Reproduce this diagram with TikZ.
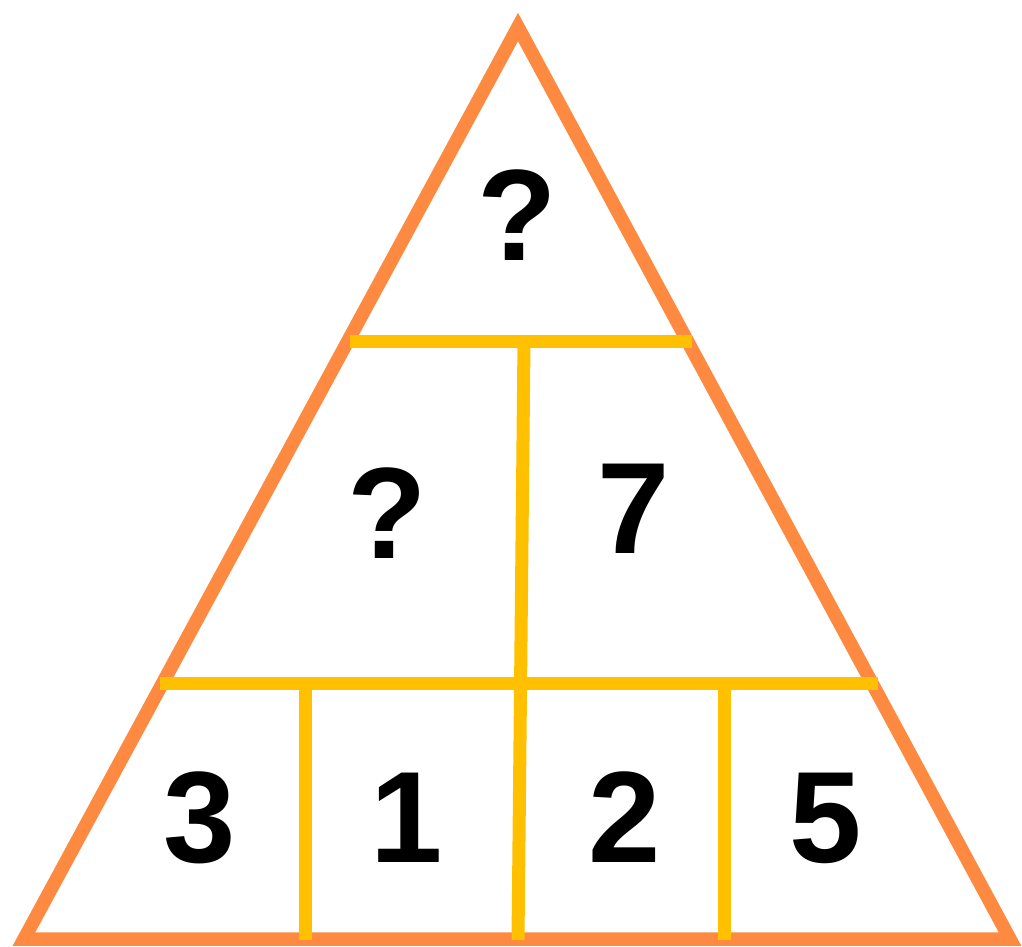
\documentclass[tikz,border=0pt]{standalone}
\usepackage{fontspec}
\setmainfont{Liberation Sans}
\definecolor{tri}{RGB}{253,138,64}
\definecolor{bar}{RGB}{255,192,0}
\begin{document}
\begin{tikzpicture}[x=1pt,y=-1pt,
  edge/.style={draw=tri,line width=13.5pt,line join=miter},
  divider/.style={draw=bar,line width=13pt},
  num/.style={anchor=base,inner sep=0pt,font=\fontsize{130}{130}\selectfont\bfseries}]
\useasboundingbox (0,0) rectangle (1022,946);
\coordinate (apex) at (518,27);
\coordinate (bl) at (24,939);
\coordinate (br) at (1010,939);
\draw[edge] (apex) -- (bl) -- (br) -- cycle;
\coordinate (t1) at (350,341);
\coordinate (t2) at (692,341);
\coordinate (m1) at (160,683);
\coordinate (m2) at (878,683);
\coordinate (vtop) at (524,341);
\coordinate (vbot) at (518,940);
\coordinate (la) at (305,683);
\coordinate (lb) at (305,940);
\coordinate (ra) at (724,683);
\coordinate (rb) at (724,940);
\draw[divider] (t1) -- (t2);
\draw[divider] (m1) -- (m2);
\draw[divider] (vtop) -- (vbot);
\draw[divider] (la) -- (lb);
\draw[divider] (ra) -- (rb);
\node[num] (q1) at (517,260) {?};
\node[num] (q2) at (387,558) {?};
\node[num] (n7) at (634,553) {7};
\node[num] (n3) at (200,862) {3};
\node[num] (n1) at (407,862) {1};
\node[num] (n2) at (625,862) {2};
\node[num] (n5) at (826,862) {5};
\end{tikzpicture}
\end{document}
